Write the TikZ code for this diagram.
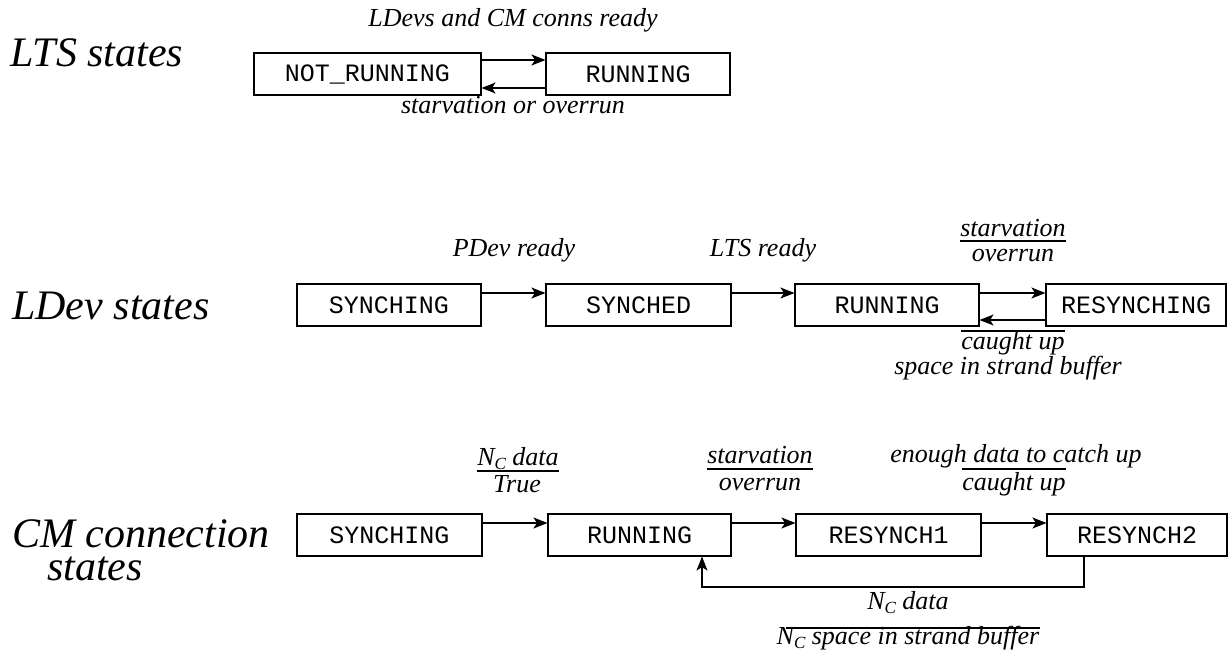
\documentclass[tikz,border=0pt]{standalone}
\usepackage{fontspec}
\setmainfont{Liberation Serif}
\setmonofont{Liberation Mono}
\usetikzlibrary{arrows.meta,calc}
\newcommand{\NCsub}{N\raisebox{-4pt}{\fontsize{17}{17}\selectfont C}}
\begin{document}
\begin{tikzpicture}[x=1pt,y=-1pt,
  stbox/.style={draw, line width=1.1pt, minimum height=42pt, inner sep=0pt,
    font=\ttfamily\fontsize{25}{25}\selectfont},
  lab/.style={font=\itshape\fontsize{26}{26}\selectfont, inner sep=0pt, anchor=base},
  head/.style={font=\itshape\fontsize{42}{42}\selectfont, inner sep=0pt, anchor=base west},
  arr/.style={line width=1.1pt, -{Stealth[length=14pt,width=11pt,inset=3.5pt]}},
  rulel/.style={line width=1.1pt}]
\useasboundingbox (0,0) rectangle (1230,653);

% headings
\node[head] (hlts) at (10,66) {LTS states};
\node[head] (hldev) at (12,319) {LDev states};
\node[head] (hcm1) at (12,547) {CM connection};
\node[head] (hcm2) at (47,580) {states};

% LTS states
\node[stbox, minimum width=227pt] (nr) at (367.5,74) {NOT\_RUNNING};
\node[stbox, minimum width=184pt] (lr) at (638,74) {RUNNING};
\draw[arr] (nr.east |- 0,60) -- (lr.west |- 0,60);
\draw[arr] (lr.west |- 0,88) -- (nr.east |- 0,88);
\node[lab] (l1) at (513,27) {LDevs and CM conns ready};
\node[lab] (l2) at (513,113) {starvation or overrun};

% LDev states
\node[stbox, minimum width=184pt] (ls1) at (389,305) {SYNCHING};
\node[stbox, minimum width=185pt] (ls2) at (638.5,305) {SYNCHED};
\node[stbox, minimum width=184pt] (ls3) at (887,305) {RUNNING};
\node[stbox, minimum width=180pt] (ls4) at (1136,305) {RESYNCHING};
\draw[arr] (ls1.east |- 0,293) -- (ls2.west |- 0,293);
\draw[arr] (ls2.east |- 0,293) -- (ls3.west |- 0,293);
\draw[arr] (ls3.east |- 0,293) -- (ls4.west |- 0,293);
\draw[arr] (ls4.west |- 0,320) -- (ls3.east |- 0,320);
\node[lab] (l3) at (514,256) {PDev ready};
\node[lab] (l4) at (763,256) {LTS ready};
\node[lab] (l5) at (1013,236) {starvation};
\draw[rulel] ($(l5.base west)+(0,5)$) -- ($(l5.base east)+(0,5)$);
\node[lab] (l6) at (1013,261) {overrun};
\node[lab] (l7) at (1013,349) {caught up};
\draw[rulel] ($(l7.base west)+(0,-18)$) -- ($(l7.base east)+(0,-18)$);
\node[lab] (l8) at (1008,374) {space in strand buffer};

% CM connection states
\node[stbox, minimum width=185pt] (cs1) at (389.5,535) {SYNCHING};
\node[stbox, minimum width=183pt] (cs2) at (639.5,535) {RUNNING};
\node[stbox, minimum width=185pt] (cs3) at (888.5,535) {RESYNCH1};
\node[stbox, minimum width=180pt] (cs4) at (1137,535) {RESYNCH2};
\draw[arr] (cs1.east |- 0,523) -- (cs2.west |- 0,523);
\draw[arr] (cs2.east |- 0,523) -- (cs3.west |- 0,523);
\draw[arr] (cs3.east |- 0,523) -- (cs4.west |- 0,523);
\coordinate (ret1) at (1084,587);
\coordinate (ret2) at (702,587);
\draw[arr] (cs4.south -| ret1) -- (ret1) -- (ret2) -- (cs2.south -| ret2);
\node[lab] (l9) at (518,465) {\NCsub\ data};
\draw[rulel] ($(l9.base west)+(0,6)$) -- ($(l9.base east)+(0,6)$);
\node[lab] (l10) at (517,492) {True};
\node[lab] (l11) at (760,463) {starvation};
\draw[rulel] ($(l11.base west)+(0,6)$) -- ($(l11.base east)+(0,6)$);
\node[lab] (l12) at (760,490) {overrun};
\node[lab] (l13) at (1016,462) {enough data to catch up};
\node[lab] (l14) at (1014,490) {caught up};
\draw[rulel] ($(l14.base west)+(0,-21)$) -- ($(l14.base east)+(0,-21)$);
\node[lab] (l15) at (908,609) {\NCsub\ data};
\node[lab] (l16) at (908,644) {\NCsub\ space in strand buffer};
\draw[rulel] ($(l16.base west)+(10,-16)$) -- ($(l16.base east)+(0,-16)$);
\end{tikzpicture}
\end{document}
